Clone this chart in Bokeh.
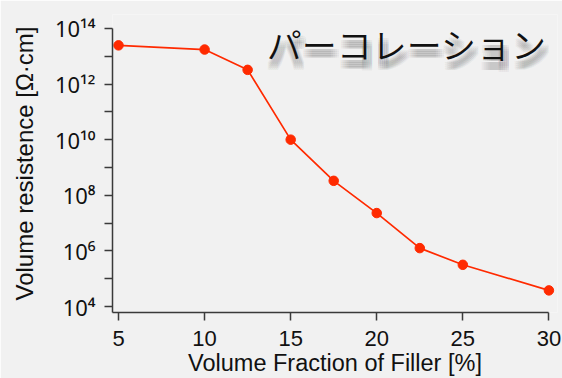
from bokeh.plotting import figure
from bokeh.models import FixedTicker, Label, Range1d, CustomJSTickFormatter
from bokeh.embed import file_html
from bokeh.resources import INLINE

# Percolation curve: volume resistivity vs. filler fraction
filler_pct = [5, 10, 12.5, 15, 17.5, 20, 22.5, 25, 30]
log_resistance = [13.39, 13.24, 12.51, 10.0, 8.52, 7.36, 6.10, 5.50, 4.58]
resistance = [10 ** v for v in log_resistance]

x_ticks = [5, 10, 15, 20, 25, 30]
y_tick_exponents = list(range(4, 15))
y_label_exponents = [4, 6, 8, 10, 12, 14]

title_text = "パーコレーション"
x_label = "Volume Fraction of Filler [%]"
y_label = "Volume resistence [Ω·cm]"

BG = "#f1f1f1"
RED = "#ff2a00"
INK = "#111111"
AXIS = "#3a3a3a"
FONT = "Liberation Sans"
TITLE_FONT = "'Noto Sans CJK JP DemiLight', 'Noto Sans CJK JP Light', 'Noto Sans CJK JP'"

X0, X1 = 4.65, 30.5
Y0, Y1 = 10 ** 3.785, 10 ** 14.5

p = figure(
    width=562, height=378,
    y_axis_type="log",
    x_range=Range1d(X0, X1), y_range=Range1d(Y0, Y1),
    output_backend="svg", toolbar_location=None,
    min_border_left=112, min_border_right=5,
    min_border_top=14, min_border_bottom=65,
    background_fill_color=BG, border_fill_color=BG,
    outline_line_color=None,
)
p.grid.visible = False

# x axis
xa = p.xaxis[0]
xa.ticker = FixedTicker(ticks=x_ticks)
xa.bounds = (X0, x_ticks[-1])
xa.axis_line_color = AXIS
xa.axis_line_width = 1.5
xa.major_tick_line_color = AXIS
xa.major_tick_line_width = 1.5
xa.major_tick_in = 0
xa.major_tick_out = 8
xa.minor_tick_out = 0
xa.major_label_text_font = FONT
xa.major_label_text_font_size = "22px"
xa.major_label_text_color = INK
xa.major_label_standoff = 10
xa.axis_label = x_label
xa.axis_label_text_font = FONT
xa.axis_label_text_font_size = "23.5px"
xa.axis_label_text_font_style = "normal"
xa.axis_label_text_color = INK
xa.axis_label_standoff = 1

# y axis (log): tick every decade, "10" + superscript exponent on even decades
SUP = str.maketrans("0123456789", "⁰¹²³⁴⁵⁶⁷⁸⁹")
sup_labels = {str(e): "10" + str(e).translate(SUP) for e in y_label_exponents}

ya = p.yaxis[0]
ya.ticker = FixedTicker(ticks=[10 ** e for e in y_tick_exponents])
ya.formatter = CustomJSTickFormatter(
    args=dict(labels=sup_labels),
    code="""
        const e = Math.round(Math.log10(tick));
        const s = labels[String(e)];
        return s === undefined ? '' : s;
    """)
ya.bounds = (Y0, 10 ** y_tick_exponents[-1])
ya.axis_line_color = AXIS
ya.axis_line_width = 1.5
ya.major_tick_line_color = AXIS
ya.major_tick_line_width = 1.5
ya.major_tick_in = 0
ya.major_tick_out = 8
ya.minor_tick_out = 0
ya.minor_tick_in = 0
ya.major_label_text_font = "Noto Sans"
ya.major_label_text_font_size = "22px"
ya.major_label_text_color = INK
ya.major_label_standoff = 9
ya.axis_label = y_label
ya.axis_label_text_font = FONT
ya.axis_label_text_font_size = "24px"
ya.axis_label_text_font_style = "normal"
ya.axis_label_text_color = INK
ya.axis_label_standoff = 14

# data
p.line(filler_pct, resistance, line_color=RED, line_width=1.7)
p.scatter(filler_pct, resistance, size=9.5, fill_color=RED, line_color=RED)

# title with a soft drop shadow
TX, TY = 21.74, 10 ** 13.46
shadow_offsets = [(dx, dy) for dx in (-3, -1, 1, 3, 5) for dy in (-5, -7, -9, -11)]
for dx, dy in shadow_offsets:
    p.add_layout(Label(x=TX, y=TY, x_offset=dx + 1, y_offset=dy,
                       text=title_text, text_align="center", text_baseline="middle",
                       text_font=TITLE_FONT, text_font_size="35px",
                       text_color="#666666", text_alpha=0.065))
p.add_layout(Label(x=TX, y=TY, text=title_text, text_align="center",
                   text_baseline="middle", text_font=TITLE_FONT,
                   text_font_size="35px", text_color=INK))

open("out.html", "w").write(file_html(p, INLINE))
